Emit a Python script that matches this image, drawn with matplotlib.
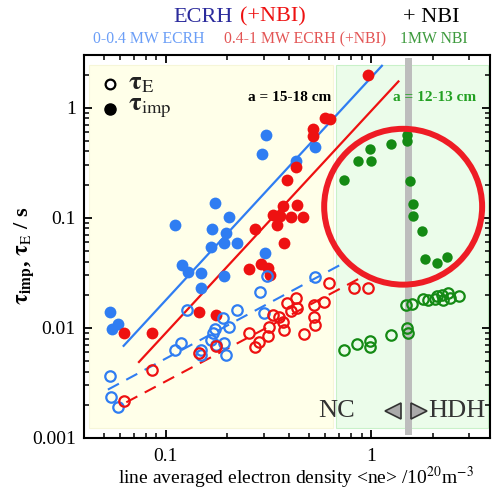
import matplotlib
matplotlib.use("Agg")
import matplotlib.pyplot as plt
from matplotlib.patches import Rectangle, Ellipse

plt.rcParams['font.family'] = ['Liberation Serif', 'DejaVu Serif']
plt.rcParams['mathtext.fontset'] = 'stix'

# --- data ---
# 0-0.4 MW ECRH (blue)
blue_imp_n = [0.0533, 0.0550, 0.0585, 0.1106, 0.1206, 0.1285, 0.1494, 0.149, 0.167, 0.168,
              0.1734, 0.1918, 0.1977, 0.2023, 0.2213, 0.1925, 0.304, 0.3076, 0.293, 0.533, 0.429]
blue_imp_t = [0.01405, 0.0098, 0.01087, 0.0855, 0.0372, 0.0323, 0.0317, 0.0229, 0.0544, 0.0798,
              0.136, 0.0592, 0.0728, 0.1017, 0.0592, 0.0296, 0.048, 0.566, 0.381, 0.437, 0.331]
blue_E_n = [0.0533, 0.0543, 0.0585, 0.1106, 0.1193, 0.1276, 0.1494, 0.1494, 0.167, 0.170, 0.1734,
            0.1767, 0.1903, 0.1925, 0.2023, 0.1977, 0.2213, 0.2874, 0.31, 0.3006, 0.533]
blue_E_t = [0.00368, 0.00236, 0.00192, 0.00632, 0.00727, 0.01455, 0.00624, 0.0057, 0.00778, 0.00895,
            0.00973, 0.00702, 0.01224, 0.00736, 0.01014, 0.0057, 0.01455, 0.0213, 0.0296, 0.01375, 0.0288]

# 0.4-1 MW ECRH (+NBI) (red)
red_imp_n = [0.0626, 0.0861, 0.1454, 0.1754, 0.2548, 0.2718, 0.2897, 0.3155, 0.3216, 0.3764,
             0.3338, 0.36, 0.349, 0.406, 0.4675, 0.3735, 0.434, 0.388, 0.4305, 0.523, 0.523,
             0.597, 0.631, 0.97]
red_imp_t = [0.00895, 0.00906, 0.01405, 0.0131, 0.034, 0.0798, 0.038, 0.0347, 0.0302, 0.0592,
             0.1054, 0.1032, 0.0855, 0.1017, 0.1017, 0.127, 0.1298, 0.2218, 0.288, 0.641, 0.558,
             0.807, 0.79, 1.99]
red_E_n = [0.0626, 0.0861, 0.1454, 0.1754, 0.2548, 0.2718, 0.2843, 0.3155, 0.319, 0.3316, 0.357,
           0.3735, 0.3764, 0.388, 0.406, 0.4305, 0.434, 0.471, 0.527, 0.59, 0.527, 0.533, 0.626,
           0.826, 0.97]
red_E_t = [0.00215, 0.00417, 0.0059, 0.00691, 0.00906, 0.00669, 0.00752, 0.00847, 0.01028, 0.0131,
           0.01265, 0.0114, 0.0096, 0.01674, 0.01435, 0.01857, 0.01508, 0.00883, 0.01615, 0.0173,
           0.01265, 0.01065, 0.0254, 0.0229, 0.0229]

# 1 MW NBI (green)
green_imp_n = [0.741, 0.861, 0.989, 0.995, 1.252, 1.493, 1.503, 1.55, 1.608, 1.608, 1.78,
               1.834, 2.092, 2.34]
green_imp_t = [0.222, 0.331, 0.423, 0.331, 0.463, 0.570, 0.496, 0.214, 0.1344, 0.1032, 0.0755,
               0.0418, 0.0385, 0.0436]
green_E_n = [0.741, 0.857, 0.989, 0.989, 1.248, 1.493, 1.52, 1.482, 1.58, 1.787, 1.903, 2.05,
             2.106, 2.213, 2.253, 2.383, 2.428, 2.697]
green_E_t = [0.00632, 0.00712, 0.00767, 0.00677, 0.00865, 0.00994, 0.00906, 0.01615, 0.01649,
             0.0182, 0.0179, 0.0182, 0.0196, 0.0199, 0.0179, 0.0206, 0.0186, 0.0195]

# fit lines (end points)
blue_imp_fit = ([0.0624, 1.13], [0.00687, 2.40])
red_imp_fit = ([0.0741, 1.36], [0.0049, 1.73])
blue_E_fit = ([0.0523, 0.706], [0.00275, 0.0372])
red_E_fit = ([0.0643, 0.884], [0.00211, 0.0283])

BLUE = '#2f7df2'
RED = '#ee1111'
GREEN = '#148a14'

fig = plt.figure(figsize=(4.94, 4.93), dpi=100)
ax = fig.add_axes([0.170, 0.1116, 0.822, 0.7766])
ax.set_xscale('log')
ax.set_yscale('log')
ax.set_xlim(0.04, 3.8)
ax.set_ylim(0.001, 3)

# background regions
ax.add_patch(Rectangle((0.0425, 0.00123), 0.653 - 0.0425, 2.45 - 0.00123,
                       facecolor='#ffffe9', edgecolor='#f6f6d8', lw=0.8, zorder=0))
ax.add_patch(Rectangle((0.675, 0.00123), 3.72 - 0.675, 2.45 - 0.00123,
                       facecolor='#ebfcea', edgecolor='#c9f1c9', lw=0.8, zorder=0))
ax.axvspan(1.456, 1.576, ymin=0.008, ymax=0.992, color='#bdbdbd', lw=0, zorder=1)

# fits
ax.plot(*blue_imp_fit, color=BLUE, lw=1.6, zorder=2)
ax.plot(*red_imp_fit, color=RED, lw=1.6, zorder=2)
ax.plot(*blue_E_fit, color=BLUE, lw=1.5, dashes=(6, 4), zorder=2)
ax.plot(*red_E_fit, color=RED, lw=1.5, dashes=(6, 4), zorder=2)

# points
filled = dict(marker='o', ls='none', ms=8.5, mew=0, zorder=3)
opened = dict(marker='o', ls='none', ms=7.5, mew=1.6, mfc='none', zorder=3)
ax.plot(blue_imp_n, blue_imp_t, color=BLUE, **filled)
ax.plot(red_imp_n, red_imp_t, color=RED, **filled)
ax.plot(green_imp_n, green_imp_t, color=GREEN, ms=7.5, marker='o', ls='none', mew=0, zorder=3)
ax.plot(blue_E_n, blue_E_t, color=BLUE, **opened)
ax.plot(red_E_n, red_E_t, color=RED, **opened)
ax.plot(green_E_n, green_E_t, color=GREEN, **opened)

# legend
ax.plot([0.0533], [1.65], marker='o', ms=7, mfc='white', mec='black', mew=1.6, zorder=4)
ax.plot([0.0533], [0.98], marker='o', ms=8, color='black', zorder=4)
ax.text(0.0655, 1.65, r'$\mathbf{\tau}_{\mathrm{E}}$', fontsize=19, va='center', color='#222222')
ax.text(0.0655, 0.98, r'$\mathbf{\tau}_{\mathrm{imp}}$', fontsize=19, va='center', color='#222222')

ax.text(0.403, 1.23, 'a = 15-18 cm', fontsize=11, fontweight='bold', ha='center', va='center')
ax.text(2.05, 1.23, 'a = 12-13 cm', fontsize=11, fontweight='bold', ha='center', va='center',
        color='#22a022')

ax.text(0.683, 0.00175, 'NC', fontsize=19, ha='center', va='center', color='#333333')
ax.text(2.62, 0.00175, 'HDH', fontsize=19, ha='center', va='center', color='#333333')
ax.plot([1.28], [0.00175], marker='<', ms=11, mfc='#aaaaaa', mec='#333333', mew=1.2, zorder=4)
ax.plot([1.71], [0.00175], marker='>', ms=11, mfc='#aaaaaa', mec='#333333', mew=1.2, zorder=4)

# red circle
ax.add_patch(Ellipse((0.786, 0.604), 0.389, 0.407, transform=ax.transAxes, fill=False,
                     edgecolor='#ee1c25', lw=4.3, zorder=5))

# axes styling
for s in ax.spines.values():
    s.set_linewidth(1.5)
ax.tick_params(which='both', direction='in', top=True, right=True, labelsize=14)
ax.tick_params(which='major', length=6, width=1.3)
ax.tick_params(which='minor', length=3.5, width=1.1)
ax.set_xticks([0.1, 1])
ax.set_xticklabels(['0.1', '1'])
ax.set_yticks([0.001, 0.01, 0.1, 1])
ax.set_yticklabels(['0.001', '0.01', '0.1', '1'])
ax.tick_params(axis='x', pad=7)
ax.tick_params(axis='y', pad=6)

# axis labels
fig.text(296 / 494, 0.019, r'line averaged electron density <ne> /10$^{20}$m$^{-3}$',
         fontsize=14, ha='center', va='baseline')
fig.text(24 / 494, 1 - 256 / 493, r'$\mathbf{\tau}_{\mathbf{imp}}$, $\mathbf{\tau}_{\mathrm{E}}$ / s',
         fontsize=16, fontweight='bold', rotation=90, ha='center', va='center')

# titles
fig.text(173 / 494, 0.9655, 'ECRH', color='#2b2b9c', fontsize=16, ha='left', va='center')
fig.text(240 / 494, 0.9655, '(+NBI)', color='#ee1111', fontsize=16, ha='left', va='center')
fig.text(403 / 494, 0.9655, '+ NBI', color='black', fontsize=16, ha='left', va='center')
fig.text(93 / 494, 0.921, '0-0.4 MW ECRH', color='#6b9ef7', fontsize=11.3, ha='left', va='center')
fig.text(224 / 494, 0.921, '0.4-1 MW ECRH (+NBI)', color='#e35555', fontsize=11.3, ha='left', va='center')
fig.text(400 / 494, 0.921, '1MW NBI', color='#3d9a3d', fontsize=11.3, ha='left', va='center')

fig.savefig('out.png', dpi=100)
